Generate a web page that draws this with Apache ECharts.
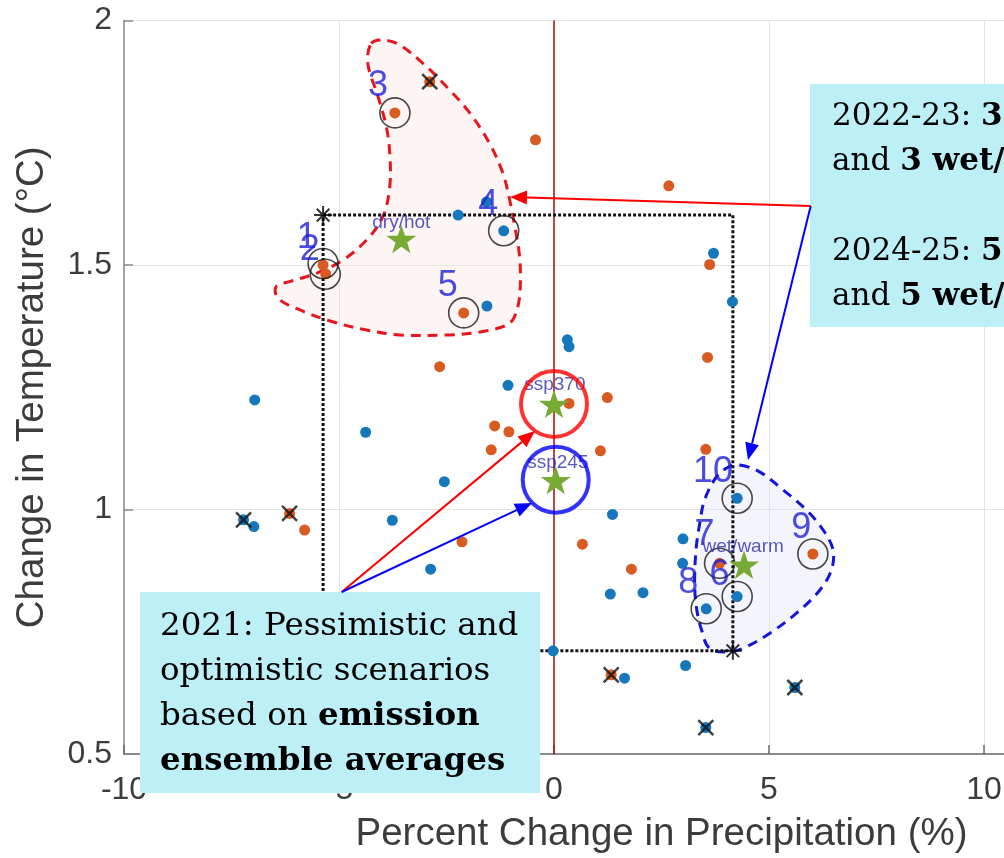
<!DOCTYPE html>
<html>
<head>
<meta charset="utf-8">
<script src="https://cdn.jsdelivr.net/npm/echarts@6/dist/echarts.min.js"></script>
<style>
  html, body { margin: 0; padding: 0; background: #fff; }
  #main { width: 1004px; height: 858px; }
</style>
</head>
<body>
<div id="main"></div>
<script>
// model runs, [precip change %, temp change C]
const bluePts = [
  [-1.57, 1.629], [-2.23, 1.602], [-1.17, 1.570], [-1.56, 1.416], [0.31, 1.347],
  [0.35, 1.333], [-1.07, 1.254], [-6.96, 1.224], [-4.38, 1.158], [-2.55, 1.057],
  [-3.76, 0.978], [-7.22, 0.979], [-6.98, 0.965], [-2.87, 0.878], [-0.02, 0.711],
  [1.36, 0.990], [3.00, 0.940], [2.99, 0.890], [1.31, 0.827], [2.07, 0.830],
  [4.26, 0.822], [3.54, 0.797], [4.26, 1.023], [3.06, 0.681], [1.64, 0.655],
  [5.60, 0.636], [3.53, 0.554], [3.71, 1.524], [4.15, 1.425]
];
const orangePts = [
  [-2.89, 1.875], [-3.70, 1.811], [-0.43, 1.756], [2.67, 1.662], [3.62, 1.501],
  [-5.37, 1.500], [-5.31, 1.482], [-2.10, 1.402], [-2.66, 1.292], [3.57, 1.311],
  [0.35, 1.217], [1.24, 1.229], [-1.38, 1.171], [-1.05, 1.159], [-1.46, 1.122],
  [1.08, 1.120], [3.53, 1.123], [-6.15, 0.992], [-5.80, 0.958], [-2.14, 0.934],
  [0.66, 0.929], [1.80, 0.878], [3.85, 0.890], [6.02, 0.909], [1.33, 0.662]
];
// runs marked with a black x
const crossPts = [[-2.89, 1.875], [-7.22, 0.979], [-6.15, 0.992], [1.33, 0.662], [5.60, 0.636], [3.53, 0.554]];
// selected runs 1..10 (circled)
const ringPts = [
  [-5.37, 1.503], [-5.32, 1.481], [-3.70, 1.811], [-1.17, 1.570], [-2.10, 1.402],
  [3.85, 0.890], [4.26, 0.822], [3.54, 0.797], [6.02, 0.909], [4.26, 1.023]
];
const ringNames = ['1', '2', '3', '4', '5', '6', '7', '8', '9', '10'];
const ringLabelPos = [
  [-5.75, 1.555], [-5.68, 1.531], [-4.09, 1.865], [-1.53, 1.623], [-2.47, 1.456],
  [3.85, 0.866], [3.50, 0.948], [3.12, 0.849], [5.75, 0.962], [3.70, 1.077]
];
// scenario averages (stars)
const starNames = ['dry/hot', 'ssp370', 'ssp245', 'wet/warm'];
const starPts = [[-3.55, 1.553], [0.0, 1.216], [0.04, 1.060], [4.42, 0.887]];
const starLabelPos = [[-3.55, 1.587], [0.02, 1.255], [0.09, 1.096], [4.40, 0.924]];
// ensemble range box corners
const rangeCorners = [[-5.37, 1.602], [4.16, 0.711]];
// highlighted regions
const dryHotEdge = [
  [-4.25, 1.953], [-3.98, 1.960], [-3.59, 1.950], [-2.97, 1.906], [-2.43, 1.858],
  [-1.96, 1.811], [-1.50, 1.749], [-1.19, 1.688], [-1.03, 1.633], [-0.91, 1.578],
  [-0.81, 1.525], [-0.78, 1.469], [-0.84, 1.415], [-1.03, 1.381], [-1.66, 1.364],
  [-2.43, 1.357], [-3.59, 1.357], [-4.36, 1.367], [-5.15, 1.384], [-5.91, 1.408],
  [-6.42, 1.432], [-6.46, 1.456], [-6.15, 1.466], [-5.53, 1.483], [-4.91, 1.510],
  [-4.36, 1.551], [-3.98, 1.599], [-3.82, 1.660], [-3.82, 1.729], [-3.90, 1.783],
  [-4.09, 1.844], [-4.33, 1.912]
];
const wetWarmEdge = [
  [4.32, 1.091], [4.78, 1.077], [5.33, 1.040], [5.87, 0.999], [6.26, 0.958],
  [6.49, 0.917], [6.45, 0.876], [6.18, 0.835], [5.64, 0.788], [5.02, 0.747],
  [4.47, 0.719], [4.09, 0.709], [3.62, 0.716], [3.43, 0.754], [3.31, 0.801],
  [3.27, 0.856], [3.31, 0.924], [3.39, 0.972], [3.50, 1.019], [3.78, 1.067],
  [4.08, 1.088]
];
const xTicks = [-10, -5, 0, 5, 10, 15];
const yTicks = [0.5, 1, 1.5, 2];

const SANS = '"Liberation Sans", Arial, sans-serif';
const SERIF = '"DejaVu Serif", serif';

let myChart = echarts.init(document.getElementById('main'));

function region(edge, stroke, fill) {
  return {
    type: 'custom',
    coordinateSystem: 'cartesian2d',
    z: 1,
    silent: true,
    data: [edge[0]],
    renderItem: function (params, api) {
      let pts = edge.map(p => api.coord(p));
      return {
        type: 'polygon',
        shape: { points: pts, smooth: 0.35 },
        style: { fill: fill, stroke: stroke, lineWidth: 3, lineDash: [10, 7] }
      };
    }
  };
}

function arrow(x1, y1, x2, y2, color) {
  let a = Math.atan2(y2 - y1, x2 - x1);
  let len = 17, hw = 7;
  let bx = x2 - len * Math.cos(a), by = y2 - len * Math.sin(a);
  let px = -Math.sin(a) * hw, py = Math.cos(a) * hw;
  return [
    { type: 'line', z: 20, shape: { x1: x1, y1: y1, x2: bx, y2: by }, style: { stroke: color, lineWidth: 2 } },
    { type: 'polygon', z: 20, shape: { points: [[x2, y2], [bx + px, by + py], [bx - px, by - py]] }, style: { fill: color } }
  ];
}

function richFor(size) {
  return { b: { fontFamily: SERIF, fontSize: size, fontWeight: 'bold', fill: '#000', lineHeight: 45 } };
}

const x0 = rangeCorners[0][0], y0 = rangeCorners[0][1], x1 = rangeCorners[1][0], y1 = rangeCorners[1][1];

myChart.setOption({
  animation: false,
  grid: { left: 124, top: 20.5, width: 1075, height: 733.5, outerBoundsMode: 'none', containLabel: false },
  xAxis: {
    type: 'value', min: xTicks[0], max: xTicks[xTicks.length - 1], interval: 5,
    name: 'Percent Change in Precipitation (%)', nameLocation: 'middle', nameGap: 61,
    nameTextStyle: { fontFamily: SANS, fontSize: 38.5, color: '#3c3c3c' },
    axisLine: { show: true, onZero: false, lineStyle: { color: '#6a6a6a', width: 1.5 } },
    axisTick: { show: true, inside: true, length: 9, lineStyle: { color: '#6a6a6a', width: 1.5 } },
    axisLabel: { fontFamily: SANS, fontSize: 32, color: '#3c3c3c', margin: 20 },
    splitLine: { show: true, lineStyle: { color: '#e4e4e4', width: 1 } }
  },
  yAxis: {
    type: 'value', min: yTicks[0], max: yTicks[yTicks.length - 1], interval: 0.5,
    name: 'Change in Temperature (°C)', nameLocation: 'middle', nameGap: 72,
    nameTextStyle: { fontFamily: SANS, fontSize: 38.5, color: '#3c3c3c' },
    axisLine: { show: true, onZero: false, lineStyle: { color: '#8a8a8a', width: 1.5 } },
    axisTick: { show: true, inside: true, length: 9, lineStyle: { color: '#8a8a8a', width: 1.5 } },
    axisLabel: { fontFamily: SANS, fontSize: 32, color: '#3c3c3c', margin: 12 },
    splitLine: { show: true, lineStyle: { color: '#e4e4e4', width: 1 } }
  },
  series: [
    region(dryHotEdge, '#e8161c', 'rgba(246,222,214,0.3)'),
    region(wetWarmEdge, '#1414dc', 'rgba(214,220,246,0.3)'),
    {
      // zero precipitation change
      type: 'line', z: 2, symbol: 'none', silent: true,
      data: [[0, yTicks[0]], [0, yTicks[yTicks.length - 1]]],
      lineStyle: { color: '#a80f0f', width: 1.5 }
    },
    {
      // ensemble range
      type: 'line', z: 3, symbol: 'none', silent: true,
      data: [[x0, y0], [x1, y0], [x1, y1], [x0, y1], [x0, y0]],
      lineStyle: { color: '#111', width: 3, type: [3, 2] }
    },
    {
      type: 'scatter', z: 4, symbolSize: 11, data: bluePts,
      itemStyle: { color: '#1677bd', opacity: 1 }
    },
    {
      type: 'scatter', z: 4, symbolSize: 11, data: orangePts,
      itemStyle: { color: '#d95b22', opacity: 1 }
    },
    {
      type: 'scatter', z: 5, symbol: 'path://M0,0L10,10M10,0L0,10', symbolSize: 15, data: crossPts,
      itemStyle: { color: 'rgba(0,0,0,0)', borderColor: '#111', borderWidth: 2.5 }
    },
    {
      type: 'scatter', z: 5, symbol: 'path://M5,0L5,10M0,5L10,5M1.5,1.5L8.5,8.5M8.5,1.5L1.5,8.5', symbolSize: 18,
      data: rangeCorners,
      itemStyle: { color: 'rgba(0,0,0,0)', borderColor: '#000', borderWidth: 2 }
    },
    {
      type: 'scatter', z: 6, symbol: 'circle', symbolSize: 30, data: ringPts,
      itemStyle: { color: 'rgba(0,0,0,0)', borderColor: '#1a1a1a', borderWidth: 1.6 }
    },
    {
      type: 'scatter', z: 7, symbolSize: 0,
      data: ringLabelPos.map((p, i) => [p[0], p[1], ringNames[i]]),
      label: {
        show: true, position: 'inside', formatter: p => p.value[2],
        fontFamily: SANS, fontSize: 36, color: '#2020d4'
      }
    },
    {
      type: 'scatter', z: 8, symbolKeepAspect: true, symbolSize: 30,
      symbol: 'path://M50,0L61.8,35.1L98.1,35.1L68.8,56.8L79.4,91L50,70L20.6,91L31.2,56.8L1.9,35.1L38.2,35.1Z',
      data: starPts,
      itemStyle: { color: '#78ab35', opacity: 1 }
    },
    {
      type: 'scatter', z: 9, symbolSize: 0,
      data: starLabelPos.map((p, i) => [p[0], p[1], starNames[i]]),
      label: {
        show: true, position: 'inside', formatter: p => p.value[2],
        fontFamily: SANS, fontSize: 19, color: '#3030b0'
      }
    },
    {
      // emission scenario highlights
      type: 'scatter', z: 10, symbol: 'circle', symbolSize: 66,
      data: [
        { value: starPts[1], itemStyle: { borderColor: '#ff0000' } },
        { value: [starPts[2][0], 1.061], itemStyle: { borderColor: '#0000ff' } }
      ],
      itemStyle: { color: 'rgba(0,0,0,0)', borderWidth: 4 }
    }
  ],
  graphic: [
    {
      type: 'rect', z: 15, shape: { x: 810, y: 84, width: 220, height: 243 },
      style: { fill: '#bcf0f6' }
    },
    {
      type: 'text', z: 16, x: 832, y: 94,
      style: {
        text: '2022-23: {b|3 dry/hot}\nand {b|3 wet/warm}\n\n2024-25: {b|5 dry/hot}\nand {b|5 wet/warm}',
        fontFamily: SERIF, fontSize: 31, fill: '#000', lineHeight: 45, rich: richFor(31)
      }
    },
    {
      type: 'rect', z: 15, shape: { x: 140, y: 592, width: 400, height: 201 },
      style: { fill: '#bcf0f6' }
    },
    {
      type: 'text', z: 16, x: 160, y: 604,
      style: {
        text: '2021: Pessimistic and\noptimistic scenarios\nbased on {b|emission}\n{b|ensemble averages}',
        fontFamily: SERIF, fontSize: 32.5, fill: '#000', lineHeight: 45, rich: richFor(32.5)
      }
    },
    ...arrow(810.7, 206, 510, 197, '#ff0000'),
    ...arrow(810.7, 206, 748, 460, '#0000ff'),
    ...arrow(341.7, 592, 535, 431, '#ff0000'),
    ...arrow(341.7, 592, 532, 503, '#0000ff')
  ]
});
</script>
</body>
</html>
